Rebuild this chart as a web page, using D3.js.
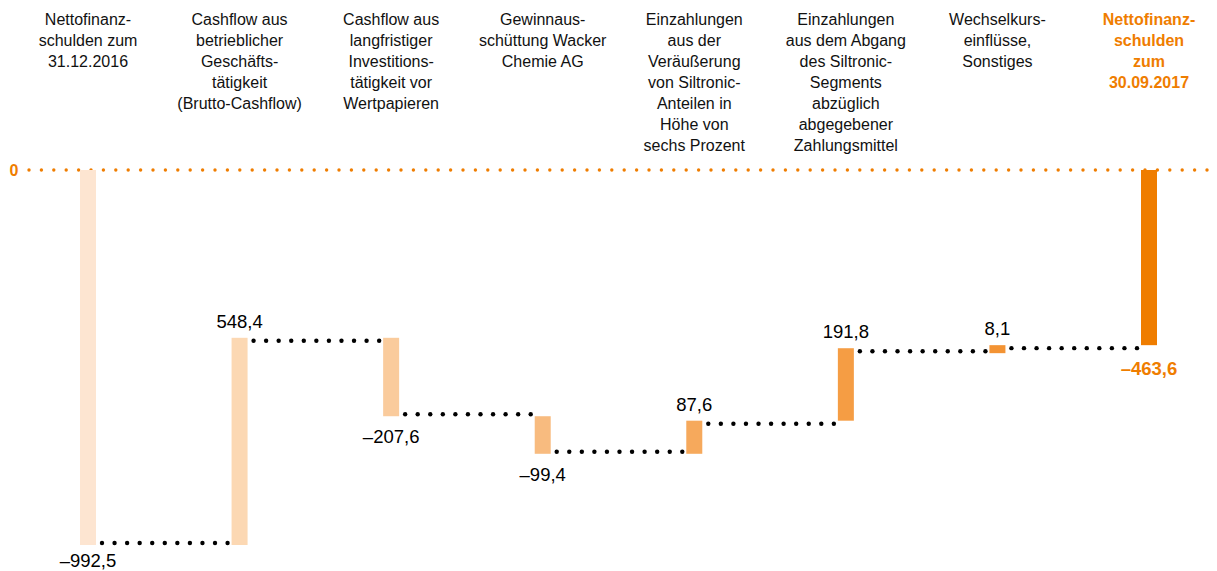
<!DOCTYPE html>
<html>
<head>
<meta charset="utf-8">
<script src="https://cdn.jsdelivr.net/npm/d3@7"></script>
<style>
  body { margin: 0; background: #fff; }
  svg { display: block; font-family: "Liberation Sans", Arial, sans-serif; }
</style>
</head>
<body>
<svg id="chart" width="1217" height="571"></svg>
<script>
// categories (label lines), changes and displayed labels
const categories = [
  ["Nettofinanz-", "schulden zum", "31.12.2016"],
  ["Cashflow aus", "betrieblicher", "Geschäfts-", "tätigkeit", "(Brutto-Cashflow)"],
  ["Cashflow aus", "langfristiger", "Investitions-", "tätigkeit vor", "Wertpapieren"],
  ["Gewinnaus-", "schüttung Wacker", "Chemie AG"],
  ["Einzahlungen", "aus der", "Veräußerung", "von Siltronic-", "Anteilen in", "Höhe von", "sechs Prozent"],
  ["Einzahlungen", "aus dem Abgang", "des Siltronic-", "Segments", "abzüglich", "abgegebener", "Zahlungsmittel"],
  ["Wechselkurs-", "einflüsse,", "Sonstiges"],
  ["Nettofinanz-", "schulden", "zum", "30.09.2017"]
]
const values = [-992.5, 548.4, -207.6, -99.4, 87.6, 191.8, 8.1, -463.6]
const isTotal = [true, false, false, false, false, false, false, true]
const valueLabels = ["–992,5", "548,4", "–207,6", "–99,4", "87,6", "191,8", "8,1", "–463,6"]
const barColors = ["#fde5d1", "#fcd8b3", "#facb9c", "#f8bb7f", "#f6a95c", "#f59d44", "#f39333", "#ef7d00"]

const orange = "#ef7d00"
const svg = d3.select("#chart")

// build waterfall steps
let running = 0
const steps = values.map((v, i) => {
    let start, end
    if (isTotal[i]) { start = 0; end = v } else { start = running; end = running + v }
    running = end
    return {i: i, start: start, end: end, value: v}
})

const x = d3.scalePoint().domain(d3.range(categories.length)).range([88, 1149])
const y = d3.scaleLinear().domain([0, -992.5]).range([170, 545])
const barW = 16

//zero line (orange dots)
svg.append("g").selectAll("circle")
    .data(d3.range(29, 1217, 12.4))
    .join("circle")
    .attr("cx", d => d).attr("cy", y(0)).attr("r", 1.7)
    .attr("fill", orange)

svg.append("text")
    .attr("x", 14).attr("y", y(0) + 6)
    .attr("text-anchor", "middle")
    .attr("font-size", 16).attr("font-weight", "bold")
    .attr("fill", orange)
    .text("0")

//connectors between bars
const conn = svg.append("g")
steps.slice(0, -1).forEach((s, i) => {
    const lvl = s.end
    const x0 = x(i) + barW / 2 + 6
    const x1 = x(i + 1) - barW / 2 - 4
    const n = Math.round((x1 - x0) / 12.6)
    conn.selectAll(null)
        .data(d3.range(n + 1))
        .join("circle")
        .attr("cx", k => x0 + k * (x1 - x0) / n)
        .attr("cy", y(lvl) + (s.value < 0 ? -2 : 3))
        .attr("r", 2.2)
        .attr("fill", "#000")
})

//bars
svg.append("g").selectAll("rect")
    .data(steps)
    .join("rect")
    .attr("x", d => x(d.i) - barW / 2)
    .attr("y", d => y(Math.max(d.start, d.end)))
    .attr("width", barW)
    .attr("height", d => Math.max(Math.abs(y(d.start) - y(d.end)), 8))
    .attr("fill", d => barColors[d.i])

//value labels
svg.append("g").selectAll("text")
    .data(steps)
    .join("text")
    .attr("x", d => x(d.i))
    .attr("y", d => {
        if (d.i === 0) return y(d.end) + 22
        if (d.i === 7) return y(d.end) + 30
        if (d.value < 0) return y(Math.min(d.start, d.end)) + 27
        return y(Math.max(d.start, d.end)) - 10
    })
    .attr("text-anchor", "middle")
    .attr("font-size", 18.5)
    .attr("font-weight", d => d.i === 7 ? "bold" : "normal")
    .attr("fill", d => d.i === 7 ? orange : "#000")
    .text(d => valueLabels[d.i])

//category labels
const cat = svg.append("g").selectAll("text")
    .data(categories)
    .join("text")
    .attr("text-anchor", "middle")
    .attr("font-size", 16)
    .attr("font-weight", (d, i) => i === 7 ? "bold" : "normal")
    .attr("fill", (d, i) => i === 7 ? orange : "#111")
cat.each(function(lines, i){
    d3.select(this).selectAll("tspan")
        .data(lines)
        .join("tspan")
        .attr("x", x(i))
        .attr("y", (l, k) => 25 + k * 21)
        .text(l => l)
})
</script>
</body>
</html>
